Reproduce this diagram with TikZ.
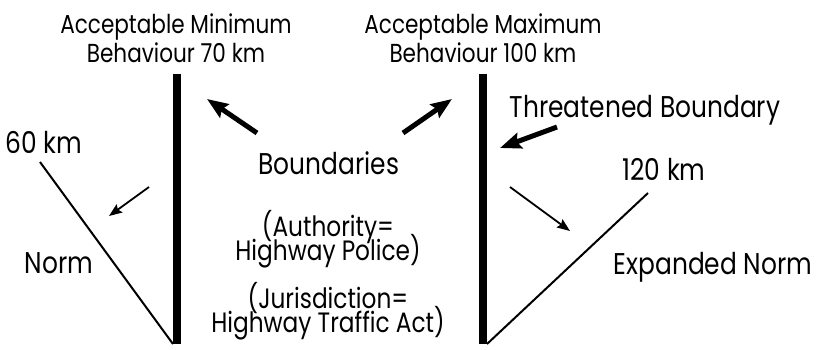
\documentclass[tikz,border=0pt]{standalone}
\usepackage{fontspec}
\setmainfont{Poppins}[FakeStretch=0.83]
\usetikzlibrary{arrows.meta}
% let close lines keep their fixed baseline distance
\newcommand\tightskip{\setlength{\lineskiplimit}{-100pt}\setlength{\lineskip}{0pt}}
\begin{document}
\begin{tikzpicture}[x=1pt,y=-1pt,
  lbl/.style={inner sep=0pt,anchor=base,font=\fontsize{30}{32}\selectfont},
  title/.style={inner sep=0pt,anchor=base,align=center,font=\fontsize{26}{29}\selectfont},
  note/.style={inner sep=0pt,anchor=base,align=center,
    font=\fontsize{28}{23.5}\selectfont\tightskip},
  bar/.style={line width=8pt},
  normline/.style={line width=2pt},
  bigarrow/.style={line width=5pt,-{Stealth[length=21pt,width=16pt,inset=3pt]}},
  smallarrow/.style={line width=1.8pt,-{Stealth[length=13pt,width=10pt,inset=2pt]}}]
\useasboundingbox (0,0) rectangle (822,349);

% boundary bars
\coordinate (minTop) at (177,74);
\coordinate (minBot) at (177,344);
\coordinate (maxTop) at (483,74);
\coordinate (maxBot) at (483,344);
\draw[bar] (minTop) -- (minBot);
\draw[bar] (maxTop) -- (maxBot);

% titles (anchored at the baseline of their last line)
\node[title] (minT) at (176,62) {Acceptable Minimum\\Behaviour 70 km};
\node[title] (maxT) at (483,62) {Acceptable Maximum\\Behaviour 100 km};

% norm lines
\coordinate (normTop) at (40,162);
\coordinate (normBot) at (173,344);
\coordinate (expTop) at (648,193);
\coordinate (expBot) at (487,344);
\draw[normline] (normTop) -- (normBot);
\draw[normline] (expBot) -- (expTop);

\node[lbl] (sixty) at (44,153) {60 km};
\node[lbl] (norm) at (59,273) {Norm};
\node[lbl] (onetwenty) at (664,180) {120 km};
\node[lbl] (expanded) at (713,274) {Expanded Norm};
\node[lbl] (threat) at (645,117) {Threatened Boundary};

% centre text
\node[lbl] (bound) at (329,174) {Boundaries};
\node[note] (auth) at (328,260) {(Authority=\\Highway Police)};
\node[note] (jur) at (328,332) {(Jurisdiction=\\Highway Traffic Act)};

% arrows
\coordinate (bl0) at (257,133);
\coordinate (bl1) at (207,99);
\coordinate (br0) at (403,133);
\coordinate (br1) at (452,99);
\coordinate (th0) at (557,127);
\coordinate (th1) at (500,148);
\coordinate (sl0) at (149,187);
\coordinate (sl1) at (109,216);
\coordinate (sr0) at (510,187);
\coordinate (sr1) at (570,231);
\draw[bigarrow] (bl0) -- (bl1);
\draw[bigarrow] (br0) -- (br1);
\draw[bigarrow] (th0) -- (th1);
\draw[smallarrow] (sl0) -- (sl1);
\draw[smallarrow] (sr0) -- (sr1);
\end{tikzpicture}
\end{document}
